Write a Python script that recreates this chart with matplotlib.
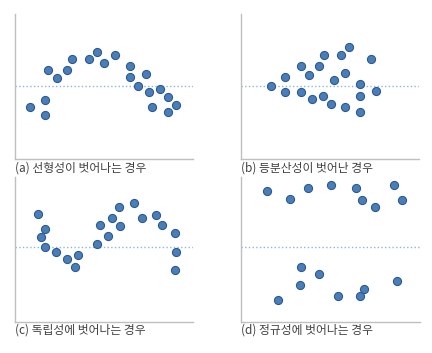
"""
Residual pattern panels
Four small scatter plots showing typical assumption violations
"""

import matplotlib.pyplot as plt

plt.rcParams['font.family'] = ['Noto Sans CJK KR', 'DejaVu Sans']

# Panel data (x, y on a 0-100 scale per panel)
a_x = [8.6, 17.0, 17.0, 18.8, 23.5, 29.1, 31.9, 41.8, 45.9, 50.2, 56.2,
       64.6, 64.6, 68.8, 73.3, 75.2, 77.1, 81.3, 85.6, 85.6, 90.3]
a_y = [35.9, 41.0, 30.6, 61.8, 56.0, 61.8, 69.1, 69.1, 74.4, 66.8, 72.1,
       64.1, 56.5, 50.9, 59.0, 46.1, 35.9, 48.6, 43.3, 32.3, 37.6]

b_x = [17.0, 25.0, 25.0, 33.8, 33.8, 38.1, 39.7, 44.0, 45.9, 46.8, 50.6,
       52.4, 56.3, 58.6, 58.6, 60.4, 66.8, 66.8, 66.8, 72.9, 75.7]
b_y = [50.9, 56.5, 46.1, 64.1, 46.1, 58.5, 41.5, 64.1, 43.8, 72.1, 38.2,
       54.4, 72.1, 59.9, 35.9, 77.2, 52.1, 44.0, 32.3, 69.1, 47.0]

c_x = [12.9, 17.0, 14.6, 17.0, 23.1, 29.1, 33.8, 35.3, 45.9, 47.8, 52.1,
       54.3, 58.4, 59.0, 67.0, 71.1, 79.1, 82.6, 89.7, 90.1, 89.7]
c_y = [74.0, 63.8, 58.5, 51.2, 48.2, 43.5, 38.0, 46.3, 53.9, 66.6, 59.2,
       71.7, 79.0, 66.1, 81.8, 71.4, 73.7, 66.6, 61.1, 48.2, 35.5]

d_x = [14.4, 27.2, 37.5, 50.0, 64.4, 67.5, 75.0, 85.4, 89.7,
       33.4, 43.7, 32.8, 20.7, 54.3, 66.4, 68.7, 87.3]
d_y = [89.9, 84.6, 92.4, 94.5, 92.2, 84.3, 79.0, 94.7, 84.3,
       38.0, 32.9, 25.3, 14.7, 17.5, 17.5, 22.4, 27.9]

ref_a = 50.9
ref_c = 51.2

labels = ['(a) 선형성이 벗어나는 경우',
          '(b) 등분산성이 벗어난 경우',
          '(c) 독립성에 벗어나는 경우',
          '(d) 정규성에 벗어나는 경우']

COLORS = {
    'point': '#4a7ebb',
    'edge': '#2e5a8c',
    'ref': '#8db4e2',
    'spine': '#bfbfbf',
    'text': '#404040',
}


def draw_panel(fig, rect, xs, ys, ref, label):
    """Draw one scatter panel with a dotted reference line and caption."""
    ax = fig.add_axes(rect)
    ax.scatter(xs, ys, s=34, color=COLORS['point'],
               edgecolor=COLORS['edge'], linewidth=0.8, zorder=3)
    ax.axhline(ref, color=COLORS['ref'], linestyle=':', linewidth=1.0, zorder=1)

    ax.set_xlim(0, 100)
    ax.set_ylim(0, 100)
    ax.set_xticks([])
    ax.set_yticks([])
    for side in ['top', 'right']:
        ax.spines[side].set_visible(False)
    for side in ['left', 'bottom']:
        ax.spines[side].set_color(COLORS['spine'])
        ax.spines[side].set_linewidth(1.0)

    ax.text(0.0, -0.06, label, transform=ax.transAxes, ha='left', va='center',
            fontsize=8.5, color=COLORS['text'])
    return ax


fig = plt.figure(figsize=(4.32, 3.53), dpi=100)

w, h = 0.4136, 0.41
draw_panel(fig, [0.034, 0.549, w, h], a_x, a_y, ref_a, labels[0])
draw_panel(fig, [0.557, 0.549, w, h], b_x, b_y, ref_a, labels[1])
draw_panel(fig, [0.034, 0.089, w, h], c_x, c_y, ref_c, labels[2])
draw_panel(fig, [0.5586, 0.089, w, h], d_x, d_y, ref_c, labels[3])

plt.savefig('out.png', dpi=100, facecolor='white')
